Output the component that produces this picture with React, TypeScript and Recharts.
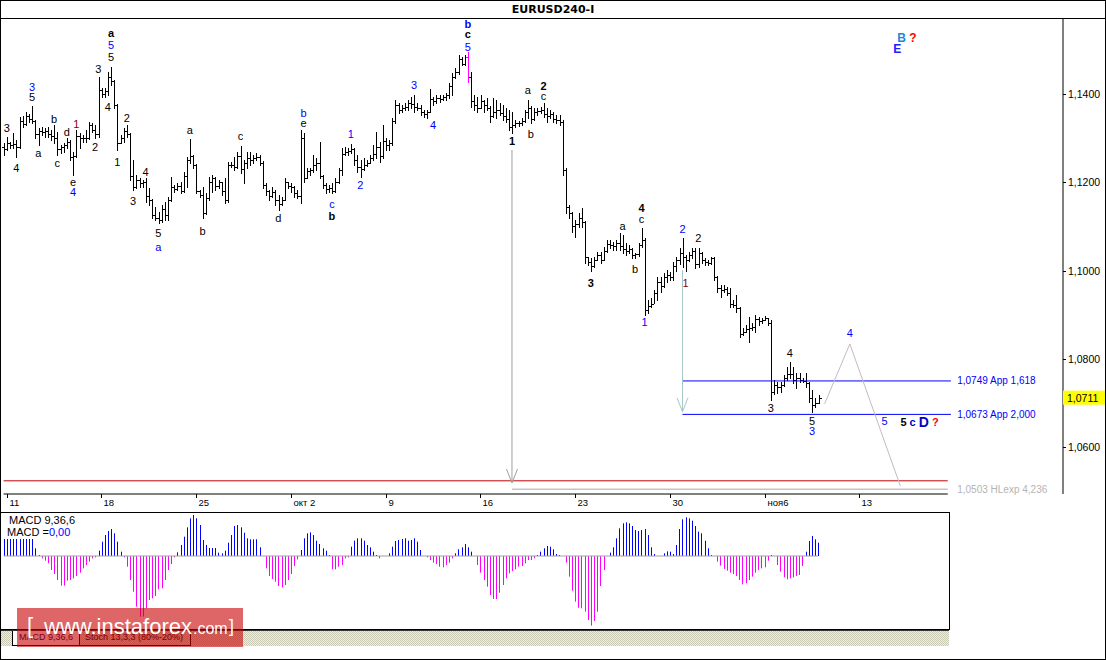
import React from "react";
import {
  ComposedChart,
  BarChart,
  Bar,
  Line,
  XAxis,
  YAxis,
  ReferenceLine,
  ReferenceDot,
} from "recharts";

const NUM_FONT = "'Liberation Sans', Arial, sans-serif";
const TITLE_FONT = "'DejaVu Sans', Verdana, sans-serif";

// 4h bars, index -1 = Fri 8 Sep 20:00, index 0 = Mon 11 Sep 00:00, 30 bars a week
const firstIndex = -1;
const firstOpen = 1.128;

const barHigh = [
  1.1290, 1.1303, 1.1292, 1.1312, 1.1297, 1.1349, 1.1350, 1.1360, 1.1355, 1.1374,
  1.1342, 1.1324, 1.1326, 1.1324, 1.1327, 1.1320, 1.1331, 1.1314, 1.1285, 1.1290,
  1.1301, 1.1297, 1.1269, 1.1319, 1.1312, 1.1308, 1.1319, 1.1337, 1.1335, 1.1331,
  1.1440, 1.1415, 1.1415, 1.1451, 1.1462, 1.1432, 1.1378, 1.1308, 1.1324, 1.1331,
  1.1312, 1.1251, 1.1217, 1.1210, 1.1206, 1.1210, 1.1187, 1.1162, 1.1144, 1.1133,
  1.1149, 1.1156, 1.1167, 1.1213, 1.1194, 1.1199, 1.1201, 1.1224, 1.1258, 1.1299,
  1.1262, 1.1242, 1.1183, 1.1190, 1.1176, 1.1213, 1.1217, 1.1212, 1.1206, 1.1201,
  1.1210, 1.1247, 1.1247, 1.1258, 1.1269, 1.1283, 1.1251, 1.1269, 1.1269, 1.1262,
  1.1267, 1.1262, 1.1248, 1.1199, 1.1183, 1.1190, 1.1183, 1.1172, 1.1167, 1.1210,
  1.1201, 1.1199, 1.1192, 1.1183, 1.1319, 1.1312, 1.1233, 1.1233, 1.1262, 1.1256,
  1.1292, 1.1218, 1.1199, 1.1194, 1.1199, 1.1210, 1.1233, 1.1278, 1.1281, 1.1278,
  1.1287, 1.1278, 1.1262, 1.1251, 1.1256, 1.1251, 1.1262, 1.1285, 1.1315, 1.1292,
  1.1331, 1.1300, 1.1297, 1.1347, 1.1388, 1.1381, 1.1376, 1.1381, 1.1388, 1.1394,
  1.1399, 1.1381, 1.1376, 1.1365, 1.1365, 1.1413, 1.1394, 1.1399, 1.1399, 1.1399,
  1.1403, 1.1426, 1.1449, 1.1460, 1.1490, 1.1485, 1.1490, 1.1497, 1.1451, 1.1399,
  1.1394, 1.1399, 1.1388, 1.1392, 1.1374, 1.1392, 1.1388, 1.1381, 1.1376, 1.1369,
  1.1365, 1.1360, 1.1342, 1.1340, 1.1347, 1.1365, 1.1388, 1.1374, 1.1369, 1.1369,
  1.1372, 1.1381, 1.1369, 1.1365, 1.1360, 1.1354, 1.1354, 1.1342, 1.1232, 1.1148,
  1.1134, 1.1115, 1.1131, 1.1142, 1.1113, 1.1031, 1.1028, 1.1031, 1.1042, 1.1042,
  1.1053, 1.1069, 1.1069, 1.1065, 1.1069, 1.1085, 1.1081, 1.1062, 1.1058, 1.1051,
  1.1040, 1.1062, 1.1097, 1.1075, 1.0933, 1.0937, 1.0956, 1.0985, 1.0985, 1.0994,
  1.1001, 1.0997, 1.1019, 1.1030, 1.1051, 1.1074, 1.1035, 1.1042, 1.1051, 1.1051,
  1.1051, 1.1042, 1.1028, 1.1024, 1.1031, 1.1031, 1.0988, 1.0967, 1.0967, 1.0962,
  1.0960, 1.0933, 1.0944, 1.0918, 1.0869, 1.0876, 1.0894, 1.0880, 1.0899, 1.0894,
  1.0892, 1.0897, 1.0892, 1.0888, 1.0751, 1.0746, 1.0746, 1.0762, 1.0780, 1.0792,
  1.0780, 1.0767, 1.0767, 1.0756, 1.0767, 1.0746, 1.0728, 1.0710, 1.0717,
];

const barLow = [
  1.1262, 1.1274, 1.1278, 1.1278, 1.1258, 1.1278, 1.1326, 1.1330, 1.1338, 1.1335,
  1.1302, 1.1285, 1.1308, 1.1303, 1.1303, 1.1297, 1.1290, 1.1262, 1.1267, 1.1270,
  1.1278, 1.1251, 1.1217, 1.1258, 1.1278, 1.1292, 1.1292, 1.1298, 1.1315, 1.1301,
  1.1303, 1.1394, 1.1395, 1.1399, 1.1421, 1.1369, 1.1274, 1.1290, 1.1292, 1.1303,
  1.1206, 1.1183, 1.1188, 1.1190, 1.1190, 1.1156, 1.1149, 1.1119, 1.1115, 1.1108,
  1.1110, 1.1115, 1.1115, 1.1158, 1.1178, 1.1183, 1.1176, 1.1178, 1.1190, 1.1244,
  1.1233, 1.1176, 1.1167, 1.1120, 1.1128, 1.1160, 1.1178, 1.1183, 1.1187, 1.1172,
  1.1153, 1.1156, 1.1235, 1.1228, 1.1233, 1.1222, 1.1199, 1.1233, 1.1240, 1.1244,
  1.1251, 1.1240, 1.1187, 1.1172, 1.1160, 1.1167, 1.1149, 1.1138, 1.1148, 1.1160,
  1.1187, 1.1178, 1.1167, 1.1165, 1.1153, 1.1201, 1.1210, 1.1217, 1.1224, 1.1228,
  1.1210, 1.1187, 1.1176, 1.1178, 1.1176, 1.1178, 1.1198, 1.1217, 1.1262, 1.1262,
  1.1267, 1.1240, 1.1224, 1.1213, 1.1228, 1.1237, 1.1244, 1.1251, 1.1256, 1.1247,
  1.1255, 1.1274, 1.1274, 1.1286, 1.1336, 1.1358, 1.1360, 1.1365, 1.1365, 1.1369,
  1.1360, 1.1365, 1.1354, 1.1349, 1.1347, 1.1360, 1.1376, 1.1381, 1.1383, 1.1388,
  1.1388, 1.1392, 1.1399, 1.1437, 1.1446, 1.1467, 1.1467, 1.1428, 1.1372, 1.1365,
  1.1360, 1.1369, 1.1360, 1.1365, 1.1337, 1.1348, 1.1347, 1.1354, 1.1342, 1.1337,
  1.1319, 1.1312, 1.1326, 1.1328, 1.1331, 1.1337, 1.1347, 1.1335, 1.1342, 1.1354,
  1.1358, 1.1349, 1.1337, 1.1347, 1.1337, 1.1335, 1.1331, 1.1217, 1.1131, 1.1119,
  1.1088, 1.1076, 1.1099, 1.1099, 1.1017, 1.1013, 1.0999, 1.1008, 1.1024, 1.1017,
  1.1024, 1.1042, 1.1051, 1.1047, 1.1047, 1.1047, 1.1040, 1.1035, 1.1040, 1.1028,
  1.1028, 1.1034, 1.1053, 1.0899, 1.0903, 1.0917, 1.0926, 1.0933, 1.0951, 1.0962,
  1.0974, 1.0978, 1.0978, 1.1000, 1.1015, 1.1008, 1.1000, 1.1022, 1.1028, 1.1006,
  1.1008, 1.1017, 1.1013, 1.1013, 1.1015, 1.0978, 1.0951, 1.0940, 1.0951, 1.0944,
  1.0917, 1.0917, 1.0906, 1.0849, 1.0853, 1.0860, 1.0837, 1.0865, 1.0860, 1.0876,
  1.0880, 1.0888, 1.0876, 1.0706, 1.0720, 1.0722, 1.0724, 1.0738, 1.0752, 1.0755,
  1.0744, 1.0733, 1.0746, 1.0746, 1.0735, 1.0701, 1.0678, 1.0690, 1.0698,
];

const barClose = [
  1.1275, 1.1290, 1.1285, 1.1288, 1.1280, 1.1340, 1.1333, 1.1352, 1.1345, 1.1340,
  1.1310, 1.1318, 1.1315, 1.1318, 1.1310, 1.1305, 1.1300, 1.1275, 1.1280, 1.1285,
  1.1292, 1.1258, 1.1260, 1.1305, 1.1300, 1.1302, 1.1300, 1.1330, 1.1320, 1.1310,
  1.1410, 1.1400, 1.1408, 1.1440, 1.1430, 1.1375, 1.1290, 1.1300, 1.1318, 1.1310,
  1.1215, 1.1190, 1.1205, 1.1198, 1.1200, 1.1170, 1.1160, 1.1125, 1.1120, 1.1115,
  1.1140, 1.1125, 1.1160, 1.1190, 1.1185, 1.1192, 1.1180, 1.1215, 1.1250, 1.1260,
  1.1240, 1.1180, 1.1172, 1.1130, 1.1165, 1.1200, 1.1210, 1.1192, 1.1200, 1.1180,
  1.1160, 1.1240, 1.1240, 1.1235, 1.1260, 1.1230, 1.1245, 1.1255, 1.1250, 1.1255,
  1.1258, 1.1245, 1.1195, 1.1180, 1.1170, 1.1178, 1.1160, 1.1150, 1.1160, 1.1200,
  1.1192, 1.1190, 1.1175, 1.1170, 1.1300, 1.1210, 1.1225, 1.1228, 1.1240, 1.1245,
  1.1215, 1.1195, 1.1185, 1.1188, 1.1180, 1.1200, 1.1228, 1.1265, 1.1270, 1.1272,
  1.1275, 1.1250, 1.1235, 1.1230, 1.1240, 1.1245, 1.1255, 1.1265, 1.1280, 1.1260,
  1.1295, 1.1285, 1.1290, 1.1340, 1.1375, 1.1365, 1.1370, 1.1372, 1.1380, 1.1378,
  1.1372, 1.1370, 1.1360, 1.1355, 1.1360, 1.1390, 1.1385, 1.1392, 1.1390, 1.1395,
  1.1398, 1.1420, 1.1440, 1.1450, 1.1480, 1.1470, 1.1485, 1.1440, 1.1385, 1.1375,
  1.1370, 1.1385, 1.1375, 1.1370, 1.1350, 1.1360, 1.1365, 1.1358, 1.1350, 1.1345,
  1.1325, 1.1330, 1.1335, 1.1336, 1.1340, 1.1360, 1.1370, 1.1345, 1.1360, 1.1362,
  1.1365, 1.1355, 1.1350, 1.1355, 1.1345, 1.1342, 1.1338, 1.1228, 1.1145, 1.1130,
  1.1100, 1.1105, 1.1120, 1.1110, 1.1030, 1.1020, 1.1010, 1.1025, 1.1035, 1.1025,
  1.1045, 1.1060, 1.1058, 1.1055, 1.1062, 1.1055, 1.1050, 1.1045, 1.1048, 1.1035,
  1.1038, 1.1058, 1.1070, 1.0910, 1.0920, 1.0925, 1.0950, 1.0975, 1.0965, 1.0985,
  1.0990, 1.0985, 1.1010, 1.1025, 1.1040, 1.1030, 1.1025, 1.1035, 1.1045, 1.1015,
  1.1040, 1.1025, 1.1020, 1.1018, 1.1028, 1.0985, 1.0960, 1.0955, 1.0958, 1.0950,
  1.0925, 1.0922, 1.0915, 1.0855, 1.0860, 1.0868, 1.0870, 1.0872, 1.0890, 1.0885,
  1.0888, 1.0892, 1.0880, 1.0725, 1.0740, 1.0735, 1.0740, 1.0755, 1.0765, 1.0765,
  1.0752, 1.0755, 1.0752, 1.0750, 1.0745, 1.0710, 1.0695, 1.0700, 1.0711,
];

// MACD(9,36,6) histogram, same bars, in 0.00001 units
const macdHist = [
  51, 51, 51, 51, 51, 51, 51, 51, 51, 51,
  23, 3, -7, -14, -22, -42, -54, -72, -89, -89,
  -74, -72, -67, -60, -50, -37, -27, -17, -7, -4,
  16, 43, 63, 75, 81, 68, 43, 13, -4, -32,
  -72, -107, -152, -182, -182, -157, -132, -127, -120, -100,
  -97, -72, -42, -24, -4, 11, 33, 58, 86, 113,
  123, 113, 93, 48, 33, 24, 24, 24, 10, 8,
  16, 40, 63, 90, 93, 86, 70, 53, 50, 50,
  50, 26, 0, -37, -60, -69, -77, -90, -94, -87,
  -72, -54, -30, -10, 18, 53, 68, 71, 63, 46,
  36, 23, 16, 3, -40, -40, -32, -27, -7, -4,
  28, 46, 53, 53, 46, 33, 26, 13, 3, -7,
  0, 0, 8, 28, 45, 48, 51, 53, 46, 48,
  53, 43, 18, 0, -4, -12, -20, -24, -32, -34,
  -27, -20, -7, 8, 20, 26, 36, 26, 13, 0,
  -27, -50, -72, -92, -117, -129, -129, -110, -87, -67,
  -52, -45, -40, -32, -30, -22, -12, -12, -7, 3,
  13, 23, 30, 28, 20, 6, 3, 0, -20, -62,
  -104, -137, -155, -157, -167, -192, -209, -195, -167, -90,
  -42, 0, 10, 26, 53, 83, 98, 101, 98, 90,
  78, 75, 78, 81, 63, 26, 6, 0, 0, 8,
  14, 13, 6, 33, 81, 110, 116, 113, 106, 90,
  73, 68, 46, 23, 3, 0, -17, -29, -39, -44,
  -50, -54, -60, -72, -85, -82, -72, -62, -50, -42,
  -37, -34, -14, 3, 0, -27, -47, -64, -70, -67,
  -64, -60, -57, -30, 13, 45, 60, 50, 40,
];

// wave forecast path (bar index, price)
const projIndex = [259, 267, 283];
const projPrice = [1.0697, 1.0833, 1.051];

const dateTicks = [0, 30, 60, 90, 120, 150, 180, 210, 240, 270];
const dateLabels = ["11", "18", "25", "окт 2", "9", "16", "23", "30", "ноя6", "13"];
const priceTicks = [1.06, 1.08, 1.1, 1.12, 1.14];

const fibLevels = [
  { price: 1.0749, text: "1,0749 App 1,618" },
  { price: 1.0673, text: "1,0673 App 2,000" },
];
const hlexpLevel = { price: 1.0503, text: "1,0503 HLexp 4,236" };
const redLevel = 1.0522;

const priceMin = 1.049205;
const priceMax = 1.157386;
const lastSlot = 334;
const macdLastSlot = 298;
const highlightedBar = 146;

const K = "#000000";
const BL = "#0000ff";
const MR = "#8b0000";

type Wave = { i: number; p: number; t: string; c?: string; b?: boolean };
const waveLabels: Wave[] = [
  { i: 0, p: 1.1324, t: "3" },
  { i: 3, p: 1.1233, t: "4" },
  { i: 8, p: 1.1417, t: "3", c: BL },
  { i: 8, p: 1.1394, t: "5" },
  { i: 10, p: 1.1267, t: "a" },
  { i: 15, p: 1.1344, t: "b" },
  { i: 16, p: 1.1244, t: "c" },
  { i: 19, p: 1.1315, t: "d" },
  { i: 21, p: 1.1201, t: "e" },
  { i: 21, p: 1.1178, t: "4", c: BL },
  { i: 22, p: 1.1333, t: "1", c: MR },
  { i: 28, p: 1.1281, t: "2" },
  { i: 29, p: 1.1458, t: "3" },
  { i: 32, p: 1.1372, t: "4" },
  { i: 33, p: 1.1485, t: "5" },
  { i: 33, p: 1.1513, t: "5", c: BL },
  { i: 33, p: 1.154, t: "a", b: true },
  { i: 35, p: 1.1247, t: "1" },
  { i: 38, p: 1.1347, t: "2" },
  { i: 40, p: 1.1158, t: "3" },
  { i: 44, p: 1.1224, t: "4" },
  { i: 48, p: 1.1085, t: "5" },
  { i: 48, p: 1.1053, t: "a", c: BL },
  { i: 58, p: 1.1319, t: "a" },
  { i: 62, p: 1.109, t: "b" },
  { i: 74, p: 1.1306, t: "c" },
  { i: 86, p: 1.1119, t: "d" },
  { i: 94, p: 1.1358, t: "b", c: BL },
  { i: 94, p: 1.1335, t: "e" },
  { i: 103, p: 1.1151, t: "c", c: BL },
  { i: 103, p: 1.1124, t: "b", b: true },
  { i: 109, p: 1.131, t: "1", c: BL },
  { i: 112, p: 1.1194, t: "2", c: BL },
  { i: 129, p: 1.1422, t: "3", c: BL },
  { i: 135, p: 1.1331, t: "4", c: BL },
  { i: 146, p: 1.1508, t: "5", c: BL },
  { i: 146, p: 1.1538, t: "c", b: true },
  { i: 146, p: 1.156, t: "b", c: BL, b: true },
  { i: 160, p: 1.1294, t: "1", b: true },
  { i: 165, p: 1.141, t: "a" },
  { i: 166, p: 1.131, t: "b" },
  { i: 170, p: 1.1419, t: "2", b: true },
  { i: 170, p: 1.1397, t: "c" },
  { i: 185, p: 1.0972, t: "3", b: true },
  { i: 195, p: 1.1101, t: "a" },
  { i: 199, p: 1.1003, t: "b" },
  { i: 201, p: 1.1142, t: "4", b: true },
  { i: 201, p: 1.1117, t: "c" },
  { i: 202, p: 1.0883, t: "1", c: BL },
  { i: 214, p: 1.1094, t: "2", c: BL },
  { i: 215, p: 1.0972, t: "1", c: MR },
  { i: 219, p: 1.1074, t: "2" },
  { i: 242, p: 1.0688, t: "3" },
  { i: 248, p: 1.0813, t: "4" },
  { i: 255, p: 1.0658, t: "5" },
  { i: 255, p: 1.0635, t: "3", c: BL },
  { i: 267, p: 1.0858, t: "4", c: BL },
  { i: 278, p: 1.0658, t: "5", c: BL },
  { i: 282, p: 1.1503, t: "E", c: "#2020ff", b: true },
];

const priceRows: any[] = [];
for (let i = firstIndex; i <= lastSlot; i++) {
  const k = i - firstIndex;
  const row: any = { i };
  if (k < barClose.length) {
    row.hi = barHigh[k];
    row.lo = barLow[k];
    row.cl = barClose[k];
    row.op = k === 0 ? firstOpen : barClose[k - 1];
    row.range = [barLow[k], barHigh[k]];
  }
  const p = projIndex.indexOf(i);
  if (p >= 0) row.proj = projPrice[p];
  priceRows.push(row);
}

const lastBar = firstIndex + barClose.length - 1;
const lastClose = barClose[barClose.length - 1];

const macdRows: any[] = [];
for (let i = firstIndex; i <= macdLastSlot; i++) {
  const k = i - firstIndex;
  macdRows.push({ i, macd: k < macdHist.length ? macdHist[k] : null });
}

const fmt = (v: number) => v.toFixed(4).replace(".", ",");

const OhlcShape = (props: any) => {
  const { x, y, width, height, payload } = props;
  if (!payload || payload.hi == null || !isFinite(y) || !isFinite(height)) return null;
  const top = Math.min(y, y + height);
  const bot = Math.max(y, y + height);
  const span = payload.hi - payload.lo || 1e-9;
  const yOf = (v: number) => top + ((payload.hi - v) / span) * (bot - top);
  const c = Math.round(x + width / 2);
  const yo = Math.round(yOf(payload.op)) + 0.5;
  const yc = Math.round(yOf(payload.cl)) + 0.5;
  const color = payload.i === highlightedBar ? "#ff00ff" : "#000";
  return (
    <g stroke={color} strokeWidth={1}>
      <line x1={c + 0.5} x2={c + 0.5} y1={Math.round(top)} y2={Math.round(bot) + 1} />
      <line x1={c - 2} x2={c} y1={yo} y2={yo} />
      <line x1={c + 1} x2={c + 3} y1={yc} y2={yc} />
    </g>
  );
};

const HistShape = (props: any) => {
  const { x, y, width, height, payload } = props;
  if (!payload || !payload.macd || !isFinite(y) || !isFinite(height)) return null;
  const top = Math.min(y, y + height);
  const h = Math.abs(height);
  const c = Math.round(x + width / 2);
  return <rect x={c} y={top} width={1} height={h} fill={payload.macd > 0 ? "#0000ff" : "#ff00ff"} />;
};

const DateTick = (props: any) => {
  const { x, y, payload } = props;
  const k = dateTicks.indexOf(payload.value);
  if (k < 0) return null;
  const px = Math.round(x) + 0.5;
  return (
    <g>
      <line x1={px} x2={px} y1={y} y2={y + 4} stroke="#000" />
      <text x={px + 2} y={y + 12} fontSize={9.5} fontFamily={NUM_FONT} fill="#000">
        {dateLabels[k]}
      </text>
    </g>
  );
};

const PriceTick = (props: any) => {
  const { x, y, payload } = props;
  const v = payload.value;
  if (v === lastClose) {
    return (
      <g>
        <rect x={x} y={y - 7} width={43} height={14} fill="#ffff00" />
        <text x={x + 4} y={y + 4} fontSize={10.5} fontFamily={NUM_FONT} fill="#000">
          {fmt(v)}
        </text>
      </g>
    );
  }
  const py = Math.round(y) + 0.5;
  return (
    <g>
      <line x1={x} x2={x + 3} y1={py} y2={py} stroke="#000" />
      <text x={x + 5} y={y + 4} fontSize={10.5} fontFamily={NUM_FONT} fill="#000">
        {fmt(v)}
      </text>
    </g>
  );
};

const waveShape = (w: Wave) => (p: any) => (
  <text
    x={p.cx}
    y={p.cy}
    textAnchor="middle"
    dominantBaseline="central"
    fontSize={w.t === "E" ? 12 : 11}
    fontWeight={w.b ? "bold" : "normal"}
    fontFamily={NUM_FONT}
    fill={w.c || K}
  >
    {w.t}
  </text>
);

const levelText = (text: string, color: string) => (p: any) => (
  <text x={p.cx} y={p.cy} dominantBaseline="central" fontSize={10} fontFamily={NUM_FONT} fill={color}>
    {text}
  </text>
);

const arrowHead = (color: string) => (p: any) => (
  <polyline
    points={`${p.cx - 5.5},${p.cy - 14} ${p.cx},${p.cy} ${p.cx + 5.5},${p.cy - 14}`}
    fill="none"
    stroke={color}
    strokeWidth={1}
  />
);

const targetText = (p: any) => (
  <text x={p.cx} y={p.cy} dominantBaseline="central" fontFamily={NUM_FONT} fontWeight="bold" fontSize={11}>
    <tspan fill="#000">5</tspan>
    <tspan fill="#0000cc"> c </tspan>
    <tspan fill="#0000cc" fontSize={14}>D</tspan>
    <tspan fill="#ff0000"> ?</tspan>
  </text>
);

const topText = (p: any) => (
  <text x={p.cx} y={p.cy} dominantBaseline="central" fontFamily={NUM_FONT} fontWeight="bold" fontSize={12}>
    <tspan fill="#1c8ad8">B</tspan>
    <tspan fill="#ff0000"> ?</tspan>
  </text>
);

function PriceChart() {
  return (
    <ComposedChart
      width={1106}
      height={494}
      data={priceRows}
      margin={{ top: 0, right: 0, bottom: 0, left: 2 }}
    >
      <XAxis
        dataKey="i"
        type="category"
        height={18}
        ticks={dateTicks}
        interval={0}
        axisLine={false}
        tickLine={false}
        tickSize={0}
        tickMargin={0}
        tick={DateTick}
      />
      <YAxis
        orientation="right"
        type="number"
        width={43}
        domain={[priceMin, priceMax]}
        allowDataOverflow
        ticks={[...priceTicks, lastClose]}
        interval={0}
        tickLine={false}
        tickSize={0}
        tickMargin={0}
        axisLine={{ stroke: "#000" }}
        tick={PriceTick}
      />
      <ReferenceLine
        segment={[{ x: firstIndex, y: priceMin }, { x: macdLastSlot, y: priceMin }]}
        stroke="#000"
      />
      <ReferenceLine
        segment={[{ x: firstIndex, y: redLevel }, { x: macdLastSlot, y: redLevel }]}
        stroke="#c00000"
      />
      <ReferenceLine
        segment={[{ x: 160, y: hlexpLevel.price }, { x: macdLastSlot, y: hlexpLevel.price }]}
        stroke="#aaa2aa"
      />
      {fibLevels.map((f) => (
        <ReferenceLine
          key={f.text}
          segment={[{ x: 214, y: f.price }, { x: 299, y: f.price }]}
          stroke="#0000ff"
        />
      ))}
      {fibLevels.map((f) => (
        <ReferenceDot key={"t" + f.text} x={301} y={f.price} r={1} shape={levelText(f.text, "#0000ff")} />
      ))}
      <ReferenceDot x={301} y={hlexpLevel.price} r={1} shape={levelText(hlexpLevel.text, "#b4b4b4")} />

      <ReferenceLine segment={[{ x: 160, y: 1.1274 }, { x: 160, y: 1.0517 }]} stroke="#a0a0a0" />
      <ReferenceDot x={160} y={1.0517} r={1} shape={arrowHead("#a0a0a0")} />
      <ReferenceLine segment={[{ x: 214, y: 1.1001 }, { x: 214, y: 1.0679 }]} stroke="#a6c8c8" />
      <ReferenceDot x={214} y={1.0679} r={1} shape={arrowHead("#a6c8c8")} />

      <Bar dataKey="range" isAnimationActive={false} shape={OhlcShape} />
      <Line
        dataKey="proj"
        stroke="#c4bac6"
        strokeWidth={1}
        dot={false}
        connectNulls
        isAnimationActive={false}
      />

      {waveLabels.map((w, n) => (
        <ReferenceDot key={n} x={w.i} y={w.p} r={1} shape={waveShape(w)} />
      ))}
      <ReferenceDot x={283} y={1.0656} r={1} shape={targetText} />
      <ReferenceDot x={282} y={1.1528} r={1} shape={topText} />
    </ComposedChart>
  );
}

function MacdChart() {
  return (
    <BarChart
      width={948}
      height={116}
      data={macdRows}
      margin={{ top: 0, right: 0, bottom: 0, left: 1 }}
    >
      <XAxis dataKey="i" type="category" hide />
      <YAxis type="number" hide domain={[-219, 129]} allowDataOverflow />
      <ReferenceLine
        segment={[{ x: firstIndex, y: 0 }, { x: lastBar, y: 0 }]}
        stroke="#a0a0a0"
      />
      <Bar dataKey="macd" isAnimationActive={false} shape={HistShape} />
    </BarChart>
  );
}

export default function App() {
  const hatch =
    "repeating-conic-gradient(#c9c9b4 0% 25%, #efefe4 0% 50%) 0 0 / 2px 2px";
  return (
    <div
      style={{
        position: "relative",
        width: 1106,
        height: 660,
        background: "#fff",
        overflow: "hidden",
        fontFamily: NUM_FONT,
      }}
    >
      <style>{"body{margin:0}"}</style>

      <div
        style={{
          position: "absolute",
          left: 0,
          top: 0,
          width: 1106,
          height: 18,
          textAlign: "center",
          lineHeight: "20px",
          fontFamily: TITLE_FONT,
          fontWeight: "bold",
          fontSize: 11,
          color: "#000",
        }}
      >
        EURUSD240-I
      </div>

      <div style={{ position: "absolute", left: 0, top: 18 }}>
        <PriceChart />
      </div>
      <div style={{ position: "absolute", left: 0, top: 18, width: 1106, height: 1, background: "#000" }} />

      <div
        style={{
          position: "absolute",
          left: 0,
          top: 512,
          width: 950,
          height: 118,
          border: "1px solid #000",
          boxSizing: "border-box",
        }}
      >
        <MacdChart />
        <div style={{ position: "absolute", left: 8, top: 1, fontSize: 11, lineHeight: "13px", color: "#000" }}>
          MACD 9,36,6
        </div>
        <div style={{ position: "absolute", left: 6, top: 13, fontSize: 11, lineHeight: "13px", color: "#000" }}>
          MACD =<span style={{ color: "#0000ff" }}>0,00</span>
        </div>
      </div>

      <div
        style={{
          position: "absolute",
          left: 0,
          top: 630,
          width: 949,
          height: 16,
          borderTop: "1px solid #333",
          boxSizing: "border-box",
          background: hatch,
        }}
      >
        <div
          style={{
            position: "absolute",
            left: 12,
            top: 0,
            width: 66,
            height: 14,
            background: "#fff",
            borderLeft: "1px solid #000",
            borderRight: "1px solid #000",
            borderBottom: "1px solid #000",
            fontSize: 9,
            lineHeight: "13px",
            textAlign: "center",
            color: "#000040",
          }}
        >
          MACD 9,36,6
        </div>
        <div
          style={{
            position: "absolute",
            left: 78,
            top: 0,
            width: 112,
            height: 14,
            borderRight: "1px solid #000",
            borderBottom: "1px solid #000",
            fontSize: 9,
            lineHeight: "13px",
            textAlign: "center",
            color: "#000",
          }}
        >
          Stoch 13,3,3 (80%-20%)
        </div>
      </div>

      <div
        style={{
          position: "absolute",
          left: 17,
          top: 608,
          width: 226,
          height: 39,
          background: "rgba(200,0,0,0.6)",
          color: "#fff",
        }}
      >
        <span style={{ position: "absolute", left: 10, top: 7, fontSize: 22, lineHeight: "22px" }}>[</span>
        <span style={{ position: "absolute", left: 27, top: 8, fontSize: 22, lineHeight: "22px" }}>www.instaforex</span>
        <span style={{ position: "absolute", left: 176, top: 13, fontSize: 16, lineHeight: "16px" }}>.com</span>
        <span style={{ position: "absolute", left: 212, top: 9, fontSize: 18, lineHeight: "18px" }}>]</span>
      </div>

      <div
        style={{
          position: "absolute",
          left: 0,
          top: 0,
          width: 1106,
          height: 660,
          border: "1px solid #000",
          boxSizing: "border-box",
          pointerEvents: "none",
        }}
      />
    </div>
  );
}
